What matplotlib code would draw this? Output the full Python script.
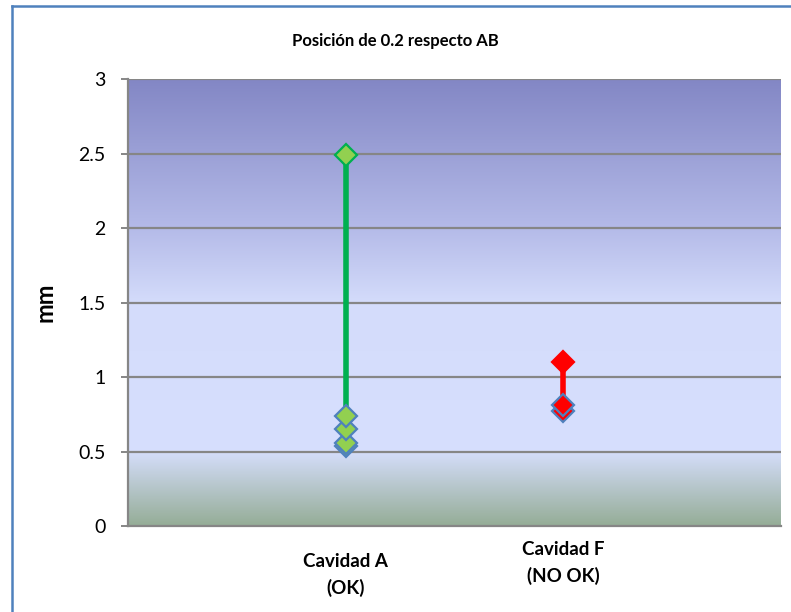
import numpy as np
import matplotlib
matplotlib.use("Agg")
import matplotlib.pyplot as plt
from matplotlib.colors import LinearSegmentedColormap
from matplotlib.lines import Line2D
from matplotlib.transforms import blended_transform_factory

# Measurements (mm) per cavity
categories = ["Cavidad A\n(OK)", "Cavidad F\n(NO OK)"]
cav_a_max = 2.49
cav_a_values = [0.54, 0.56, 0.65, 0.74]
cav_f_max = 1.10
cav_f_values = [0.77, 0.81]
y_ticks = [0, 0.5, 1, 1.5, 2, 2.5, 3]
y_tick_labels = ["0", "0.5", "1", "1.5", "2", "2.5", "3"]

plt.rcParams['font.family'] = ['Lato', 'DejaVu Sans']

W, H = 791, 612
fig = plt.figure(figsize=(W / 100, H / 100), dpi=100)
fig.patch.set_facecolor("white")

left, right, top, bottom = 128, 781, 79, 526
ax = fig.add_axes([left / W, 1 - bottom / H, (right - left) / W, (bottom - top) / H])

# background gradient of the plot area (top to bottom)
bg = LinearSegmentedColormap.from_list(
    "bg",
    [(0.0, "#8387c5"), (0.33, "#b4bae8"), (0.5, "#d4dcfb"),
     (0.83, "#d7dffe"), (1.0, "#95ad97")])
grad = np.linspace(0, 1, 256).reshape(-1, 1)
ax.imshow(grad, cmap=bg, aspect="auto", extent=[0, 3, 0, 3], origin="upper",
          zorder=0, interpolation="bilinear")
ax.set_xlim(0, 3)
ax.set_ylim(0, 3)

for yv in y_ticks[1:]:
    ax.axhline(yv, color="#868686", lw=1.6, zorder=1)

for s in ["top", "right"]:
    ax.spines[s].set_visible(False)
for s in ["left", "bottom"]:
    ax.spines[s].set_color("#868686")
    ax.spines[s].set_linewidth(1.6)

ax.set_yticks(y_ticks)
ax.set_yticklabels(y_tick_labels, fontsize=14)
ax.tick_params(axis="y", length=5, width=1.4, color="#868686", pad=11)
ax.set_xticks([])

# range lines
ax.plot([1, 1], [max(cav_a_values), cav_a_max], color="#00b050", lw=4,
        solid_capstyle="butt", zorder=3)
ax.plot([2, 2], [max(cav_f_values), cav_f_max], color="#ff0000", lw=4,
        solid_capstyle="butt", zorder=3)

# markers
ms = 11.5
for v in cav_a_values:
    ax.plot([1], [v], marker="D", ms=ms, mfc="#92d050", mec="#4f81bd",
            mew=1.6, zorder=4)
ax.plot([1], [cav_a_max], marker="D", ms=ms, mfc="#92d050", mec="#00b050",
        mew=1.6, zorder=4)
for v in cav_f_values:
    ax.plot([2], [v], marker="D", ms=ms, mfc="#ff0000", mec="#4f81bd",
            mew=1.6, zorder=4)
ax.plot([2], [cav_f_max], marker="D", ms=ms, mfc="#ff0000", mec="#ff0000",
        mew=1.6, zorder=4)

# category labels
tr = blended_transform_factory(ax.transData, fig.transFigure)
label_y = [575, 563]
for i, (lab, yp) in enumerate(zip(categories, label_y)):
    ax.text(i + 1, 1 - yp / H, lab, transform=tr, ha="center", va="center",
            fontsize=13.5, fontweight="bold", linespacing=1.55)

fig.text(45 / W, 1 - 302 / H, "mm", rotation=90, ha="center", va="center",
         fontsize=17, fontweight="bold")
fig.text(395 / W, 1 - 41 / H, "Posición de 0.2 respecto AB", ha="center",
         va="center", fontsize=12, fontweight="bold")

# chart border
fig.add_artist(Line2D([12 / W, 12 / W], [0, 1 - 6 / H], transform=fig.transFigure,
                      color="#4f81bd", lw=1.8))
fig.add_artist(Line2D([12 / W, 1], [1 - 6 / H, 1 - 6 / H], transform=fig.transFigure,
                      color="#4f81bd", lw=1.8))

fig.savefig("out.png", dpi=100)
